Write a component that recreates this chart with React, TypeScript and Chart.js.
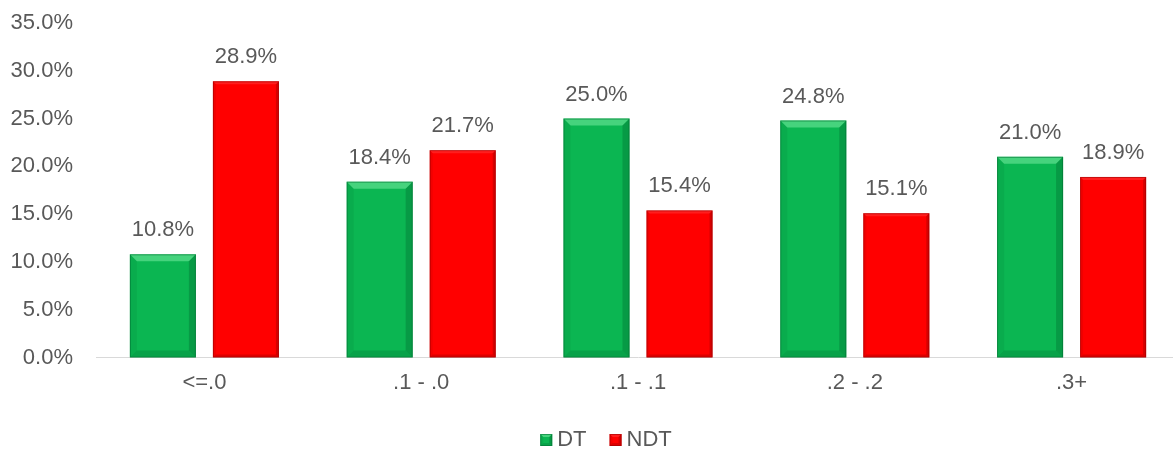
import React, { useEffect, useRef } from "react";
import { Chart, registerables } from "chart.js";

Chart.register(...registerables);

const categories = ["<=.0", ".1 - .0", ".1 - .1", ".2 - .2", ".3+"];
const seriesNames = ["DT", "NDT"];
const dtValues = [10.8, 18.4, 25.0, 24.8, 21.0];
const ndtValues = [28.9, 21.7, 15.4, 15.1, 18.9];
const yTicks = [0, 5, 10, 15, 20, 25, 30, 35];

const FONT = "'Liberation Sans', Arial, Helvetica, sans-serif";
const GRAY = "#595959";
const GREEN = "#0BB652";
const RED = "#FF0000";

function drawBevelBox(ctx: CanvasRenderingContext2D, l: number, t: number, r: number, b: number, isGreen: boolean, bv: number) {
  ctx.save();
  ctx.fillStyle = isGreen ? "rgba(120,235,160,0.55)" : "rgba(255,100,100,0.3)";
  ctx.beginPath();
  ctx.moveTo(l, t); ctx.lineTo(r, t); ctx.lineTo(r - bv, t + bv); ctx.lineTo(l + bv, t + bv);
  ctx.closePath(); ctx.fill();
  ctx.fillStyle = isGreen ? "rgba(0,90,40,0.3)" : "rgba(120,0,0,0.3)";
  ctx.beginPath();
  ctx.moveTo(r, t); ctx.lineTo(r, b); ctx.lineTo(r - bv, b - bv); ctx.lineTo(r - bv, t + bv);
  ctx.closePath(); ctx.fill();
  ctx.fillStyle = isGreen ? "rgba(0,90,40,0.22)" : "rgba(120,0,0,0.25)";
  ctx.beginPath();
  ctx.moveTo(l, b); ctx.lineTo(r, b); ctx.lineTo(r - bv, b - bv); ctx.lineTo(l + bv, b - bv);
  ctx.closePath(); ctx.fill();
  ctx.fillStyle = isGreen ? "rgba(0,90,40,0.1)" : "rgba(120,0,0,0.1)";
  ctx.beginPath();
  ctx.moveTo(l, t); ctx.lineTo(l, b); ctx.lineTo(l + bv, b - bv); ctx.lineTo(l + bv, t + bv);
  ctx.closePath(); ctx.fill();
  ctx.strokeStyle = isGreen ? "rgba(0,110,50,0.55)" : "rgba(150,0,0,0.55)";
  ctx.lineWidth = 1;
  ctx.strokeRect(l + 0.5, t + 0.5, r - l - 1, b - t - 1);
  ctx.restore();
}

const decorPlugin = {
  id: "decor",
  afterDatasetsDraw(chart: any) {
    const ctx = chart.ctx as CanvasRenderingContext2D;
    chart.data.datasets.forEach((ds: any, di: number) => {
      const meta = chart.getDatasetMeta(di);
      meta.data.forEach((bar: any) => {
        const { x, y, base, width } = bar.getProps(["x", "y", "base", "width"], true);
        drawBevelBox(ctx, x - width / 2, y, x + width / 2, base, di === 0, di === 0 ? 7 : 3);
      });
    });
    ctx.save();
    ctx.font = `22px ${FONT}`;
    ctx.fillStyle = GRAY;
    ctx.textAlign = "center";
    ctx.textBaseline = "middle";
    chart.data.datasets.forEach((ds: any, di: number) => {
      const meta = chart.getDatasetMeta(di);
      meta.data.forEach((bar: any, i: number) => {
        const v = ds.data[i] as number;
        ctx.fillText(v.toFixed(1) + "%", bar.x, bar.y - 24);
      });
    });
    ctx.restore();
  },
  afterDraw(chart: any) {
    const ctx = chart.ctx as CanvasRenderingContext2D;
    ctx.save();
    ctx.font = `22px ${FONT}`;
    const box = 12, gapText = 5, gapItem = 23;
    const items = chart.data.datasets.map((ds: any, di: number) => ({
      label: ds.label as string,
      green: di === 0,
      color: ds.backgroundColor as string,
      w: ctx.measureText(ds.label).width,
    }));
    let total = 0;
    items.forEach((it: any, i: number) => {
      total += box + gapText + it.w + (i < items.length - 1 ? gapItem : 0);
    });
    let x = chart.width / 2 - total / 2 + 2;
    const cy = 440;
    items.forEach((it: any) => {
      ctx.fillStyle = it.color;
      ctx.fillRect(x, cy - box / 2, box, box);
      drawBevelBox(ctx, x, cy - box / 2, x + box, cy + box / 2, it.green, 3);
      ctx.fillStyle = GRAY;
      ctx.textAlign = "left";
      ctx.textBaseline = "middle";
      ctx.fillText(it.label, x + box + gapText, cy);
      x += box + gapText + it.w + gapItem;
    });
    ctx.restore();
  },
};

export default function App() {
  const ref = useRef<HTMLCanvasElement>(null);
  useEffect(() => {
    document.body.style.margin = "0";
    document.body.style.overflow = "hidden";
    const chart = new Chart(ref.current!, {
      type: "bar",
      data: {
        labels: categories,
        datasets: [
          {
            label: seriesNames[0],
            data: dtValues,
            backgroundColor: GREEN,
            borderWidth: 0,
            categoryPercentage: 0.766,
            barPercentage: 0.795,
          },
          {
            label: seriesNames[1],
            data: ndtValues,
            backgroundColor: RED,
            borderWidth: 0,
            categoryPercentage: 0.766,
            barPercentage: 0.795,
          },
        ],
      },
      options: {
        animation: false,
        responsive: false,
        maintainAspectRatio: false,
        layout: { padding: { top: 23, right: 28, left: 10, bottom: 44 } },
        plugins: {
          tooltip: { enabled: false },
          legend: { display: false },
        },
        scales: {
          x: {
            grid: { display: false, drawTicks: false, tickLength: 0 },
            border: { display: true, color: "#d9d9d9", width: 1 },
            ticks: { font: { family: FONT, size: 22 }, color: GRAY, padding: 12 },
          },
          y: {
            min: yTicks[0],
            max: yTicks[yTicks.length - 1],
            grid: { display: false, drawTicks: false, tickLength: 0 },
            border: { display: false },
            afterBuildTicks: (scale: any) => {
              scale.ticks = yTicks.map((v) => ({ value: v }));
            },
            afterFit: (scale: any) => {
              scale.width = 86;
              scale.paddingTop = 0;
              scale.paddingBottom = 0;
            },
            ticks: {
              font: { family: FONT, size: 22 },
              color: GRAY,
              padding: 23,
              callback: (v: any) => Number(v).toFixed(1) + "%",
            },
          },
        },
      },
      plugins: [decorPlugin],
    });
    return () => chart.destroy();
  }, []);
  return (
    <div style={{ width: 1173, height: 452, overflow: "hidden", position: "relative" }}>
      <canvas ref={ref} width={1208} height={452} style={{ display: "block" }} />
    </div>
  );
}
